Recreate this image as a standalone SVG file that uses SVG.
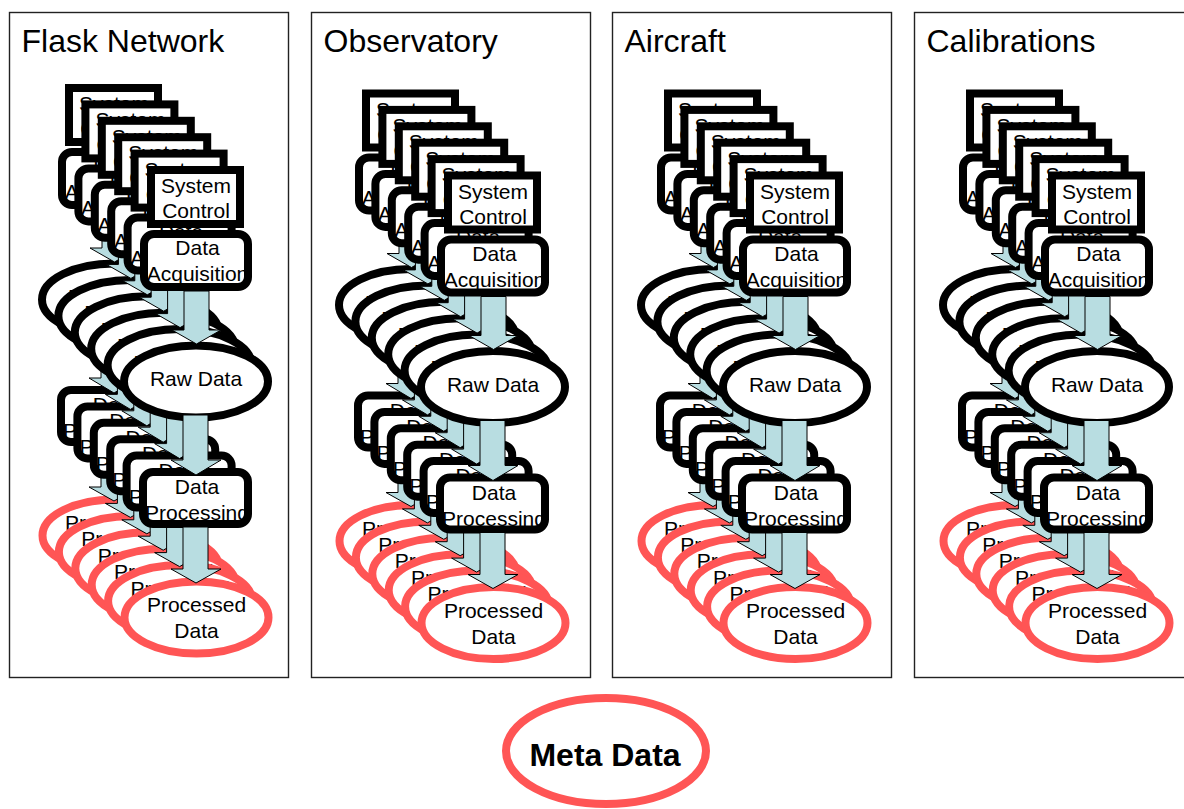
<svg xmlns="http://www.w3.org/2000/svg" xmlns:xlink="http://www.w3.org/1999/xlink" width="1184" height="809" viewBox="0 0 1184 809">
  <style>
    .panel { fill: #fff; stroke: #222; stroke-width: 1.4; }
    .title { font-family: "Liberation Sans", Arial, sans-serif; font-size: 32px; fill: #000; }
    .lbl { font-family: "Liberation Sans", Arial, sans-serif; font-size: 21px; fill: #000; text-anchor: middle; }
    .meta { font-family: "Liberation Sans", Arial, sans-serif; font-size: 32px; font-weight: bold; fill: #000; text-anchor: middle; }
    .fill { fill: #fff; }
    .edge { fill: none; stroke: #000; stroke-width: 8; }
    .oval { fill: #fff; stroke: #000; stroke-width: 8; }
    .oval-red { fill: #fff; stroke: #ff5555; stroke-width: 8; }
    .arrow { fill: #b8dde1; stroke: #000; stroke-width: 1; }
  </style>
  <defs>
    <!-- one layer of the workflow stack: control -> acquisition -> raw -> processing -> processed -->
    <g id="layer">
      <ellipse class="oval" cx="196" cy="381.5" rx="72" ry="36"/>
      <text class="lbl" x="196" y="386">Raw Data</text>
      <ellipse class="oval-red" cx="196.5" cy="617.5" rx="72" ry="36"/>
      <text class="lbl" x="196.5" y="612">Processed</text>
      <text class="lbl" x="196.5" y="638">Data</text>
      <rect class="fill" x="151" y="170" width="89" height="54"/>
      <text class="lbl" x="196" y="193">System</text>
      <text class="lbl" x="196" y="218">Control</text>
      <rect class="edge" x="151" y="170" width="89" height="54"/>
      <rect class="fill" x="144" y="234" width="104" height="53" rx="10"/>
      <text class="lbl" x="197.5" y="255">Data</text>
      <text class="lbl" x="197.5" y="281">Acquisition</text>
      <rect class="edge" x="144" y="234" width="104" height="53" rx="10"/>
      <rect class="fill" x="143" y="472" width="105" height="52" rx="10"/>
      <text class="lbl" x="197" y="494">Data</text>
      <text class="lbl" x="197" y="520">Processing</text>
      <rect class="edge" x="143" y="472" width="105" height="52" rx="10"/>
      <path class="arrow" d="M184,291 H209 V330 H221 L196.5,344 L172,330 H184 Z"/>
      <path class="arrow" d="M183,415 H208 V460 H221 L196,475 L171,460 H183 Z"/>
      <path class="arrow" d="M183,527 H208 V569 H221 L196,583 L171,569 H183 Z"/>
    </g>
  </defs>

  <!-- panel frames and titles -->
  <g id="panel-flask">
    <rect class="panel" x="9.5" y="12.5" width="279" height="665"/>
    <text class="title" x="21.5" y="51.5">Flask Network</text>
  </g>
  <g id="panel-observatory">
    <rect class="panel" x="311.5" y="12.5" width="279" height="665"/>
    <text class="title" x="323.5" y="51.5">Observatory</text>
  </g>
  <g id="panel-aircraft">
    <rect class="panel" x="612.5" y="12.5" width="279" height="665"/>
    <text class="title" x="624.5" y="51.5">Aircraft</text>
  </g>
  <g id="panel-calibrations">
    <rect class="panel" x="914.5" y="12.5" width="279" height="665"/>
    <text class="title" x="926.5" y="51.5">Calibrations</text>
  </g>

  <!-- stacked back layers, five per panel -->
  <g id="stack-flask">
    <use xlink:href="#layer" href="#layer" transform="translate(-82,-82)"/>
    <use xlink:href="#layer" href="#layer" transform="translate(-65.6,-65.6)"/>
    <use xlink:href="#layer" href="#layer" transform="translate(-49.2,-49.2)"/>
    <use xlink:href="#layer" href="#layer" transform="translate(-32.8,-32.8)"/>
    <use xlink:href="#layer" href="#layer" transform="translate(-16.4,-16.4)"/>
  </g>
  <g id="stack-observatory">
    <use xlink:href="#layer" href="#layer" transform="translate(215,-76.5)"/>
    <use xlink:href="#layer" href="#layer" transform="translate(231.4,-60.1)"/>
    <use xlink:href="#layer" href="#layer" transform="translate(247.8,-43.7)"/>
    <use xlink:href="#layer" href="#layer" transform="translate(264.2,-27.3)"/>
    <use xlink:href="#layer" href="#layer" transform="translate(280.6,-10.9)"/>
  </g>
  <g id="stack-aircraft">
    <use xlink:href="#layer" href="#layer" transform="translate(517,-76.5)"/>
    <use xlink:href="#layer" href="#layer" transform="translate(533.4,-60.1)"/>
    <use xlink:href="#layer" href="#layer" transform="translate(549.8,-43.7)"/>
    <use xlink:href="#layer" href="#layer" transform="translate(566.2,-27.3)"/>
    <use xlink:href="#layer" href="#layer" transform="translate(582.6,-10.9)"/>
  </g>
  <g id="stack-calibrations">
    <use xlink:href="#layer" href="#layer" transform="translate(819,-76.5)"/>
    <use xlink:href="#layer" href="#layer" transform="translate(835.4,-60.1)"/>
    <use xlink:href="#layer" href="#layer" transform="translate(851.8,-43.7)"/>
    <use xlink:href="#layer" href="#layer" transform="translate(868.2,-27.3)"/>
    <use xlink:href="#layer" href="#layer" transform="translate(884.6,-10.9)"/>
  </g>

  <!-- front layer of each panel, drawn as separate nodes -->
  <g id="front-flask">
    <g id="flask-raw"><ellipse class="oval" cx="196" cy="381.5" rx="72" ry="36"/><text class="lbl" x="196" y="386">Raw Data</text></g>
    <g id="flask-processed"><ellipse class="oval-red" cx="196.5" cy="617.5" rx="72" ry="36"/><text class="lbl" x="196.5" y="612">Processed</text><text class="lbl" x="196.5" y="638">Data</text></g>
    <g id="flask-control"><rect class="fill" x="151" y="170" width="89" height="54"/><text class="lbl" x="196" y="193">System</text><text class="lbl" x="196" y="218">Control</text><rect class="edge" x="151" y="170" width="89" height="54"/></g>
    <g id="flask-acquisition"><rect class="fill" x="144" y="234" width="104" height="53" rx="10"/><text class="lbl" x="197.5" y="255">Data</text><text class="lbl" x="197.5" y="281">Acquisition</text><rect class="edge" x="144" y="234" width="104" height="53" rx="10"/></g>
    <g id="flask-processing"><rect class="fill" x="143" y="472" width="105" height="52" rx="10"/><text class="lbl" x="197" y="494">Data</text><text class="lbl" x="197" y="520">Processing</text><rect class="edge" x="143" y="472" width="105" height="52" rx="10"/></g>
    <g id="flask-connectors">
      <path class="arrow" d="M184,291 H209 V330 H221 L196.5,344 L172,330 H184 Z"/>
      <path class="arrow" d="M183,415 H208 V460 H221 L196,475 L171,460 H183 Z"/>
      <path class="arrow" d="M183,527 H208 V569 H221 L196,583 L171,569 H183 Z"/>
    </g>
  </g>
  <g id="front-observatory" transform="translate(297,5.5)">
    <g id="observatory-raw"><ellipse class="oval" cx="196" cy="381.5" rx="72" ry="36"/><text class="lbl" x="196" y="386">Raw Data</text></g>
    <g id="observatory-processed"><ellipse class="oval-red" cx="196.5" cy="617.5" rx="72" ry="36"/><text class="lbl" x="196.5" y="612">Processed</text><text class="lbl" x="196.5" y="638">Data</text></g>
    <g id="observatory-control"><rect class="fill" x="151" y="170" width="89" height="54"/><text class="lbl" x="196" y="193">System</text><text class="lbl" x="196" y="218">Control</text><rect class="edge" x="151" y="170" width="89" height="54"/></g>
    <g id="observatory-acquisition"><rect class="fill" x="144" y="234" width="104" height="53" rx="10"/><text class="lbl" x="197.5" y="255">Data</text><text class="lbl" x="197.5" y="281">Acquisition</text><rect class="edge" x="144" y="234" width="104" height="53" rx="10"/></g>
    <g id="observatory-processing"><rect class="fill" x="143" y="472" width="105" height="52" rx="10"/><text class="lbl" x="197" y="494">Data</text><text class="lbl" x="197" y="520">Processing</text><rect class="edge" x="143" y="472" width="105" height="52" rx="10"/></g>
    <g id="observatory-connectors">
      <path class="arrow" d="M184,291 H209 V330 H221 L196.5,344 L172,330 H184 Z"/>
      <path class="arrow" d="M183,415 H208 V460 H221 L196,475 L171,460 H183 Z"/>
      <path class="arrow" d="M183,527 H208 V569 H221 L196,583 L171,569 H183 Z"/>
    </g>
  </g>
  <g id="front-aircraft" transform="translate(599,5.5)">
    <g id="aircraft-raw"><ellipse class="oval" cx="196" cy="381.5" rx="72" ry="36"/><text class="lbl" x="196" y="386">Raw Data</text></g>
    <g id="aircraft-processed"><ellipse class="oval-red" cx="196.5" cy="617.5" rx="72" ry="36"/><text class="lbl" x="196.5" y="612">Processed</text><text class="lbl" x="196.5" y="638">Data</text></g>
    <g id="aircraft-control"><rect class="fill" x="151" y="170" width="89" height="54"/><text class="lbl" x="196" y="193">System</text><text class="lbl" x="196" y="218">Control</text><rect class="edge" x="151" y="170" width="89" height="54"/></g>
    <g id="aircraft-acquisition"><rect class="fill" x="144" y="234" width="104" height="53" rx="10"/><text class="lbl" x="197.5" y="255">Data</text><text class="lbl" x="197.5" y="281">Acquisition</text><rect class="edge" x="144" y="234" width="104" height="53" rx="10"/></g>
    <g id="aircraft-processing"><rect class="fill" x="143" y="472" width="105" height="52" rx="10"/><text class="lbl" x="197" y="494">Data</text><text class="lbl" x="197" y="520">Processing</text><rect class="edge" x="143" y="472" width="105" height="52" rx="10"/></g>
    <g id="aircraft-connectors">
      <path class="arrow" d="M184,291 H209 V330 H221 L196.5,344 L172,330 H184 Z"/>
      <path class="arrow" d="M183,415 H208 V460 H221 L196,475 L171,460 H183 Z"/>
      <path class="arrow" d="M183,527 H208 V569 H221 L196,583 L171,569 H183 Z"/>
    </g>
  </g>
  <g id="front-calibrations" transform="translate(901,5.5)">
    <g id="calibrations-raw"><ellipse class="oval" cx="196" cy="381.5" rx="72" ry="36"/><text class="lbl" x="196" y="386">Raw Data</text></g>
    <g id="calibrations-processed"><ellipse class="oval-red" cx="196.5" cy="617.5" rx="72" ry="36"/><text class="lbl" x="196.5" y="612">Processed</text><text class="lbl" x="196.5" y="638">Data</text></g>
    <g id="calibrations-control"><rect class="fill" x="151" y="170" width="89" height="54"/><text class="lbl" x="196" y="193">System</text><text class="lbl" x="196" y="218">Control</text><rect class="edge" x="151" y="170" width="89" height="54"/></g>
    <g id="calibrations-acquisition"><rect class="fill" x="144" y="234" width="104" height="53" rx="10"/><text class="lbl" x="197.5" y="255">Data</text><text class="lbl" x="197.5" y="281">Acquisition</text><rect class="edge" x="144" y="234" width="104" height="53" rx="10"/></g>
    <g id="calibrations-processing"><rect class="fill" x="143" y="472" width="105" height="52" rx="10"/><text class="lbl" x="197" y="494">Data</text><text class="lbl" x="197" y="520">Processing</text><rect class="edge" x="143" y="472" width="105" height="52" rx="10"/></g>
    <g id="calibrations-connectors">
      <path class="arrow" d="M184,291 H209 V330 H221 L196.5,344 L172,330 H184 Z"/>
      <path class="arrow" d="M183,415 H208 V460 H221 L196,475 L171,460 H183 Z"/>
      <path class="arrow" d="M183,527 H208 V569 H221 L196,583 L171,569 H183 Z"/>
    </g>
  </g>

  <!-- shared metadata node -->
  <g id="meta-data">
    <ellipse class="oval-red" cx="606" cy="751" rx="100" ry="53"/>
    <text class="meta" x="605" y="766">Meta Data</text>
  </g>
</svg>
